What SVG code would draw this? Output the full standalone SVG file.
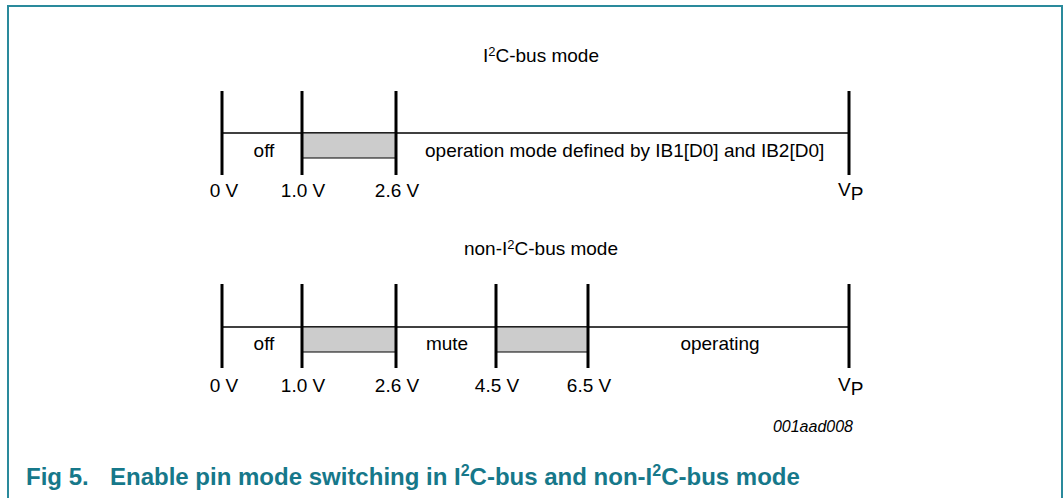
<svg xmlns="http://www.w3.org/2000/svg" width="1063" height="498" viewBox="0 0 1063 498">
<style>
text{font-family:"Liberation Sans",Arial,sans-serif;fill:#000}
.lbl{font-size:19px}
.mid{text-anchor:middle}
.tick{stroke:#000;stroke-width:3}
.axis{stroke:#000;stroke-width:1.5}
.band{fill:#cccccc;stroke:#000;stroke-width:1}
.cap{font-size:24px;font-weight:bold;fill:#16788a}
</style>
<rect x="0" y="0" width="1063" height="498" fill="#fff"/>
<path d="M8,498 V6 H1062 V498" fill="none" stroke="#2a8a9c" stroke-width="2"/>
<g id="connectors">
<line class="axis" x1="222" y1="133" x2="849" y2="133"/>
<line class="axis" x1="222" y1="327" x2="849" y2="327"/>
</g>
<g id="top">
<rect class="band" x="302" y="133" width="94" height="25"/>
<line class="tick" x1="222" y1="91" x2="222" y2="175"/>
<line class="tick" x1="302" y1="91" x2="302" y2="175"/>
<line class="tick" x1="396" y1="91" x2="396" y2="175"/>
<line class="tick" x1="849" y1="91" x2="849" y2="175"/>
<text class="lbl mid" x="541" y="62">I<tspan dy="-6" font-size="13">2</tspan><tspan dy="6">C-bus mode</tspan></text>
<text class="lbl mid" x="264" y="157">off</text>
<text class="lbl" x="425" y="157" font-size="18.5">operation mode defined by IB1[D0] and IB2[D0]</text>
<text class="lbl mid" x="224" y="197">0 V</text>
<text class="lbl mid" x="303" y="197">1.0 V</text>
<text class="lbl mid" x="397" y="197">2.6 V</text>
<text class="lbl" x="838" y="196">V<tspan dy="4">P</tspan></text>
</g>
<g id="bottom">
<rect class="band" x="302" y="327" width="94" height="25"/>
<rect class="band" x="496" y="327" width="92" height="25"/>
<line class="tick" x1="222" y1="284" x2="222" y2="368"/>
<line class="tick" x1="302" y1="284" x2="302" y2="368"/>
<line class="tick" x1="396" y1="284" x2="396" y2="368"/>
<line class="tick" x1="496" y1="284" x2="496" y2="368"/>
<line class="tick" x1="588" y1="284" x2="588" y2="368"/>
<line class="tick" x1="849" y1="284" x2="849" y2="368"/>
<text class="lbl mid" x="541" y="255">non-I<tspan dy="-6" font-size="13">2</tspan><tspan dy="6">C-bus mode</tspan></text>
<text class="lbl mid" x="264" y="350">off</text>
<text class="lbl mid" x="447" y="350">mute</text>
<text class="lbl mid" x="720" y="350">operating</text>
<text class="lbl mid" x="224" y="392">0 V</text>
<text class="lbl mid" x="303" y="392">1.0 V</text>
<text class="lbl mid" x="397" y="392">2.6 V</text>
<text class="lbl mid" x="497" y="392">4.5 V</text>
<text class="lbl mid" x="589" y="392">6.5 V</text>
<text class="lbl" x="838" y="391">V<tspan dy="4">P</tspan></text>
</g>
<text x="853" y="432" font-size="16" font-style="italic" text-anchor="end">001aad008</text>
<text class="cap" x="26" y="485">Fig 5.<tspan x="110">Enable pin mode switching in I</tspan><tspan dy="-9" font-size="16">2</tspan><tspan dy="9">C-bus and non-I</tspan><tspan dy="-9" font-size="16">2</tspan><tspan dy="9">C-bus mode</tspan></text>
</svg>
